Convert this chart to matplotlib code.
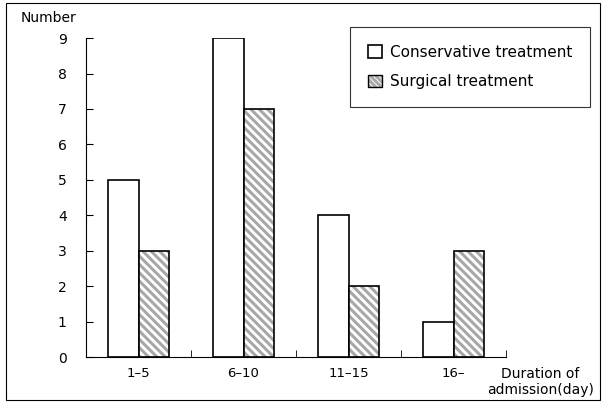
import matplotlib
matplotlib.use("Agg")
import matplotlib.pyplot as plt
import numpy as np
from matplotlib.patches import Rectangle

plt.rcParams['font.family'] = ['DejaVu Sans']
plt.rcParams['hatch.linewidth'] = 2.2

categories = ["1\u20135", "6\u201310", "11\u201315", "16\u2013"]
conservative = [5, 9, 4, 1]
surgical = [3, 7, 2, 3]

fig = plt.figure(figsize=(6.06, 4.05), dpi=100)
ax = fig.add_axes([0.142, 0.1185, 0.693, 0.7875])

x = np.arange(len(categories))
w = 0.29
ax.bar(x - w / 2, conservative, w, color="white", edgecolor="black", linewidth=1.2,
       label="Conservative treatment")
# hatched fill in gray, outline drawn on top in black
ax.bar(x + w / 2, surgical, w, color="white", edgecolor="#a8a8a8", linewidth=0,
       hatch="\\\\\\\\")
ax.bar(x + w / 2, surgical, w, fill=False, edgecolor="black", linewidth=1.2)
# legend proxy
sp = Rectangle((0, 0), 1, 1, facecolor="white", edgecolor="#a8a8a8",
               hatch="\\\\\\\\\\\\", linewidth=0)
sp_edge = Rectangle((0, 0), 1, 1, fill=False, edgecolor="black", linewidth=1.0)

ax.set_xlim(-0.5, 3.5)
ax.set_ylim(0, 9)
ax.set_yticks(range(10))
ax.set_xticks(x)
ax.set_xticklabels(categories)
ax.set_xticks([0.5, 1.5, 2.5, 3.5], minor=True)
ax.tick_params(axis="x", which="major", length=0, labelsize=9.5, pad=7)
ax.tick_params(axis="x", which="minor", direction="in", length=5)
ax.tick_params(axis="y", direction="in", length=5, labelsize=10, pad=14)
for s in ["top", "right"]:
    ax.spines[s].set_visible(False)

h, l = ax.get_legend_handles_labels()
leg = ax.legend([h[0], (sp, sp_edge)], ["Conservative treatment", "Surgical treatment"],
                loc="upper right", bbox_to_anchor=(1.2, 1.034), borderaxespad=0,
                fontsize=11, frameon=True, fancybox=False, edgecolor="black",
                handlelength=0.9, handleheight=0.9, borderpad=1.15,
                labelspacing=0.95, handletextpad=0.55)
leg.get_frame().set_linewidth(0.8)

fig.text(0.034, 0.955, "Number", fontsize=10, va="center")
fig.text(0.892, 0.057, "Duration of\nadmission(day)", fontsize=10,
         ha="center", va="center", linespacing=1.15)

fig.patches.append(Rectangle((0.01, 0.012), 0.98, 0.98, transform=fig.transFigure,
                             fill=False, edgecolor="black", linewidth=0.8))

fig.savefig("out.png", dpi=100)
